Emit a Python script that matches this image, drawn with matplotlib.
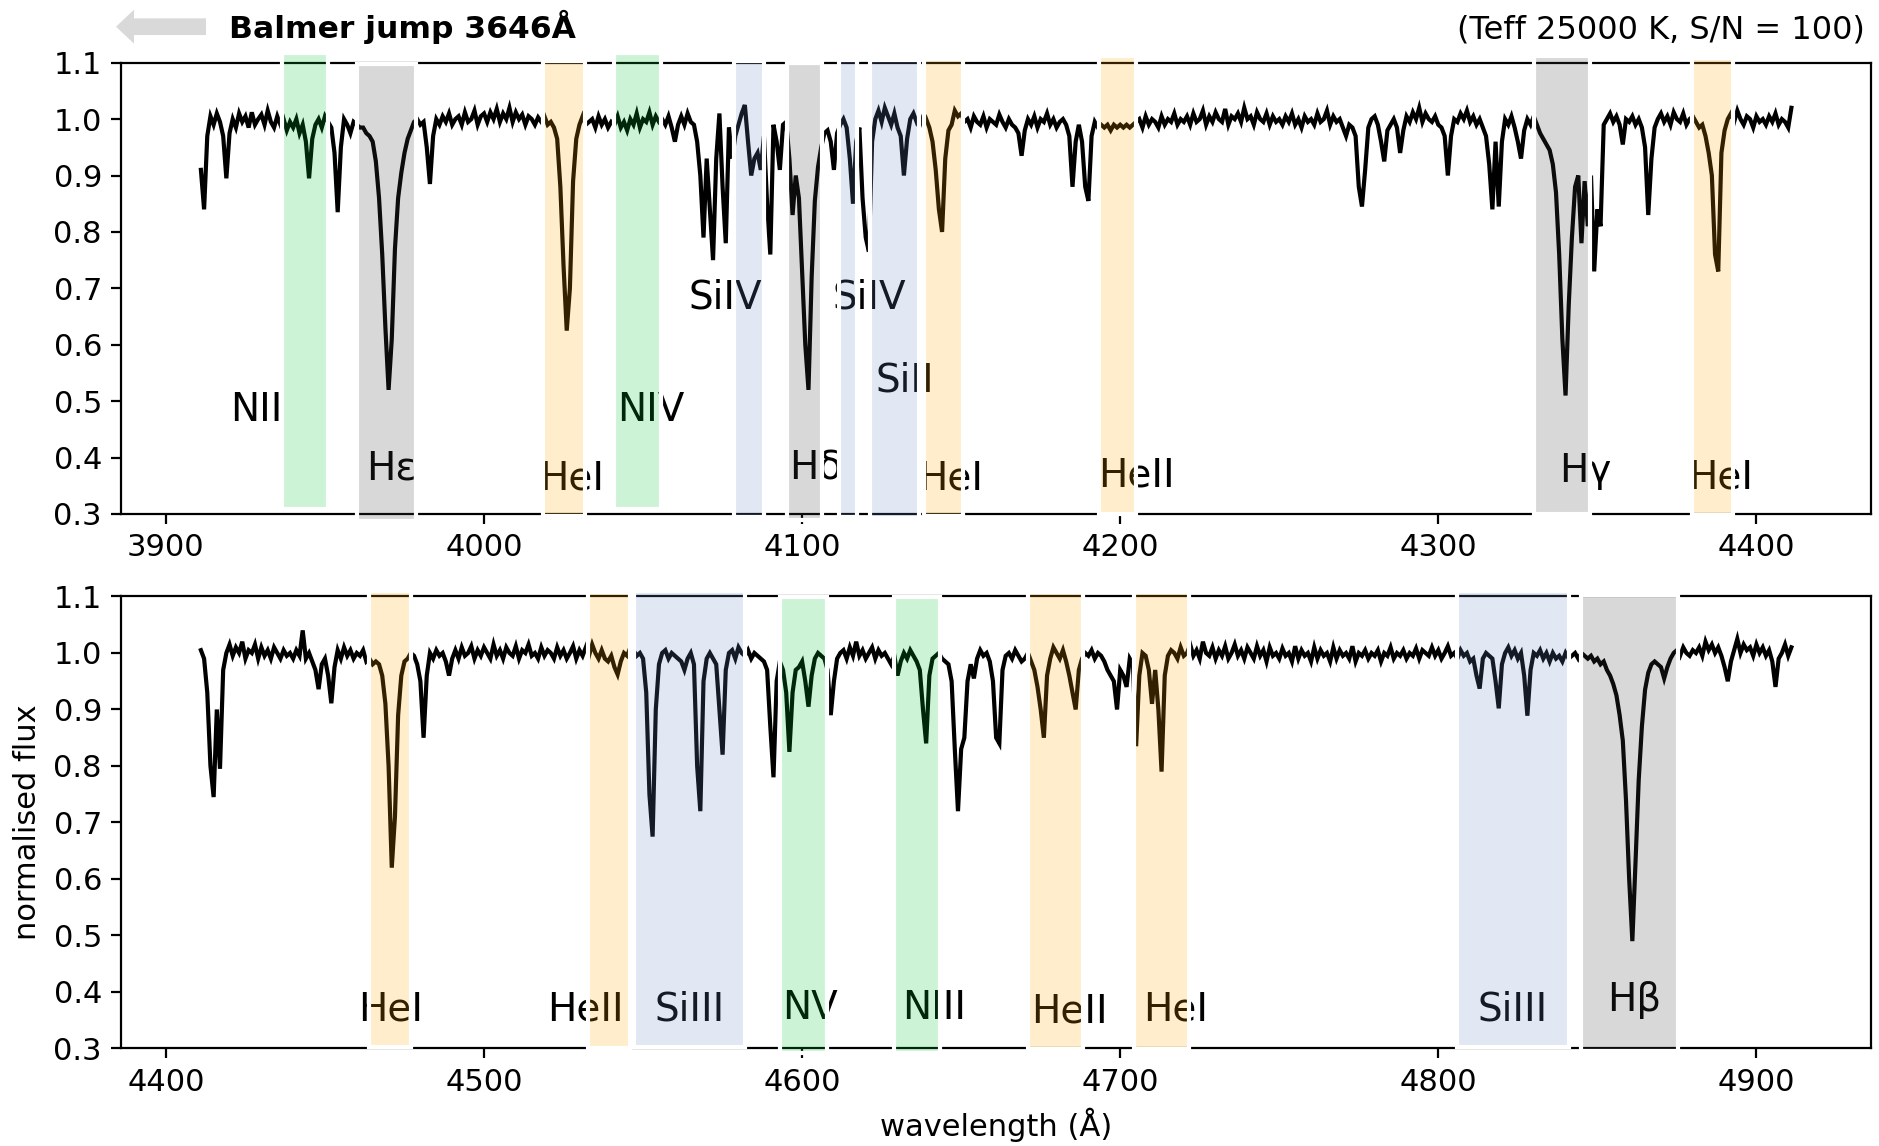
import numpy as np
import matplotlib.pyplot as plt
from matplotlib.patches import FancyArrow

plt.rcParams['font.family'] = 'DejaVu Sans'
plt.rcParams['font.size'] = 11

# normalised flux, one value per Angstrom
top_start = 3911
top_flux = [
    0.91, 0.84, 0.97, 1.005, 0.99, 1.01, 0.995, 0.97, 0.895, 0.975,      # 3911
    1.0, 0.985, 1.01, 0.995, 1.005, 0.985, 1.012, 0.99, 1.0, 1.008,      # 3921
    0.99, 1.015, 0.995, 0.985, 1.005, 0.99, 1.0, 0.98, 0.995, 0.985,     # 3931
    1.0, 0.975, 0.99, 0.96, 0.895, 0.965, 0.99, 1.0, 0.985, 1.005,       # 3941
    0.995, 0.985, 0.94, 0.835, 0.95, 1.0, 0.99, 0.975, 0.995, 0.99,      # 3951
    0.985, 0.985, 0.975, 0.97, 0.96, 0.925, 0.86, 0.76, 0.63, 0.52,      # 3961
    0.61, 0.77, 0.86, 0.905, 0.94, 0.965, 0.98, 0.995, 1.0, 0.99,        # 3971
    0.995, 0.95, 0.885, 0.97, 1.0, 0.99, 1.005, 0.995, 1.01, 0.99,       # 3981
    1.0, 1.005, 0.99, 1.012, 0.995, 1.0, 1.015, 0.99, 1.005, 1.01,       # 3991
    0.995, 1.012, 1.0, 1.018, 0.995, 1.01, 1.0, 1.02, 0.995, 1.012,      # 4001
    1.0, 1.008, 0.99, 1.005, 1.0, 0.99, 1.003, 0.995, 1.005, 0.99,       # 4011
    0.995, 0.985, 0.965, 0.88, 0.74, 0.625, 0.70, 0.89, 0.965, 0.99,     # 4021
    1.005, 0.99, 0.995, 1.0, 0.985, 1.005, 0.99, 1.0, 0.985, 0.995,      # 4031
    0.99, 1.005, 0.985, 0.995, 0.98, 1.0, 0.99, 1.01, 0.985, 1.0,        # 4041
    0.995, 1.012, 0.99, 1.005, 0.995, 1.0, 0.99, 1.005, 0.985, 0.96,     # 4051
    0.99, 1.005, 0.99, 1.01, 0.995, 0.99, 0.96, 0.90, 0.79, 0.93,        # 4061
    0.84, 0.75, 0.93, 1.01, 0.88, 0.78, 0.985, 0.93, 0.97, 0.99,         # 4071
    1.01, 1.025, 0.96, 0.90, 0.93, 0.94, 0.91, 0.97, 0.85, 0.76,         # 4081
    0.99, 0.96, 0.91, 0.99, 0.995, 0.93, 0.83, 0.90, 0.86, 0.73,         # 4091
    0.60, 0.52, 0.72, 0.855, 0.915, 0.95, 0.975, 0.98, 0.96, 0.91,       # 4101
    0.975, 0.99, 1.0, 0.985, 0.93, 0.85, 0.96, 0.985, 0.86, 0.79,        # 4111
    0.765, 0.96, 1.0, 1.015, 0.995, 1.02, 1.005, 0.99, 1.01, 0.985,      # 4121
    0.97, 0.90, 0.965, 1.0, 1.01, 0.995, 1.005, 0.99, 1.0, 0.985,        # 4131
    0.96, 0.91, 0.84, 0.80, 0.93, 0.98, 0.99, 1.015, 1.005, 1.01,        # 4141
    0.995, 1.0, 0.985, 1.005, 0.995, 0.99, 1.005, 0.985, 1.0, 0.995,     # 4151
    0.99, 1.008, 0.995, 0.985, 1.0, 0.99, 0.985, 0.975, 0.935, 0.98,     # 4161
    1.0, 0.99, 1.005, 0.985, 1.0, 0.995, 1.01, 0.99, 1.0, 0.985,         # 4171
    0.995, 1.0, 0.99, 0.97, 0.88, 0.96, 0.99, 0.96, 0.88, 0.855,         # 4181
    0.97, 0.995, 0.985, 0.99, 0.985, 0.99, 0.98, 0.99, 0.985, 0.99,      # 4191
    0.985, 0.99, 0.985, 0.99, 0.995, 1.0, 0.985, 1.005, 0.99, 1.0,       # 4201
    0.995, 0.985, 1.005, 0.99, 1.0, 0.995, 1.01, 0.99, 1.0, 0.995,       # 4211
    1.005, 0.99, 1.01, 0.995, 1.0, 1.015, 0.99, 1.005, 0.995, 1.012,     # 4221
    1.0, 0.995, 1.018, 0.99, 1.005, 1.0, 1.01, 0.995, 1.02, 1.0,         # 4231
    1.005, 0.99, 1.012, 1.0, 0.995, 1.01, 0.99, 1.005, 0.995, 1.0,       # 4241
    0.99, 1.005, 0.995, 1.01, 0.99, 1.0, 0.985, 1.005, 0.995, 1.0,       # 4251
    0.99, 1.01, 0.995, 1.0, 1.015, 0.99, 1.005, 0.995, 1.0, 0.985,       # 4261
    0.97, 0.99, 0.985, 0.97, 0.88, 0.845, 0.91, 0.985, 1.0, 1.005,       # 4271
    0.99, 0.96, 0.925, 0.98, 0.99, 1.0, 0.985, 0.94, 0.98, 1.005,        # 4281
    0.995, 1.012, 1.0, 1.02, 0.995, 1.01, 1.0, 0.995, 1.005, 0.99,       # 4291
    0.985, 0.97, 0.90, 0.97, 1.0, 0.995, 1.01, 1.0, 1.015, 0.995,        # 4301
    1.005, 0.99, 1.0, 0.985, 0.97, 0.92, 0.84, 0.96, 0.845, 0.96,        # 4311
    1.0, 0.99, 1.005, 0.985, 0.96, 0.93, 0.98, 1.0, 0.99, 1.005,         # 4321
    0.99, 0.975, 0.965, 0.955, 0.945, 0.92, 0.87, 0.76, 0.61, 0.51,      # 4331
    0.67, 0.79, 0.88, 0.90, 0.78, 0.89, 0.81, 0.90, 0.73, 0.84,          # 4341
    0.81, 0.99, 1.0, 1.01, 0.995, 1.005, 0.99, 0.955, 1.0, 0.995,        # 4351
    1.005, 0.99, 1.0, 0.985, 0.95, 0.83, 0.93, 0.985, 1.0, 1.01,         # 4361
    0.995, 1.005, 0.99, 1.012, 1.0, 0.995, 1.01, 0.99, 1.0, 1.005,       # 4371
    0.995, 0.985, 0.99, 0.97, 0.94, 0.90, 0.76, 0.73, 0.94, 0.98,        # 4381
    1.0, 1.01, 0.995, 1.015, 1.0, 0.99, 1.005, 1.0, 0.985, 1.005,        # 4391
    0.995, 1.0, 0.99, 1.005, 0.995, 1.01, 0.99, 1.0, 0.995, 0.985,       # 4401
    1.02,                                                                # 4411
]

bottom_start = 4411
bottom_flux = [
    1.005, 0.99, 0.93, 0.80, 0.745, 0.90, 0.795, 0.97, 1.0, 1.015,       # 4411
    0.995, 1.01, 1.0, 1.02, 0.99, 1.005, 1.0, 1.015, 0.99, 1.01,         # 4421
    0.995, 1.005, 0.99, 1.01, 1.0, 0.99, 1.005, 0.995, 1.0, 0.99,        # 4431
    1.005, 0.995, 1.04, 0.99, 1.0, 0.985, 0.97, 0.936, 0.98, 0.99,       # 4441
    0.96, 0.911, 0.975, 1.005, 0.99, 1.01, 0.995, 1.005, 0.99, 1.0,      # 4451
    0.995, 1.005, 0.985, 0.99, 0.98, 0.985, 0.98, 0.96, 0.91, 0.80,      # 4461
    0.62, 0.71, 0.89, 0.96, 0.985, 0.99, 1.0, 0.995, 0.98, 0.95,         # 4471
    0.85, 0.96, 1.0, 0.99, 1.005, 0.995, 1.0, 0.985, 0.96, 0.99,         # 4481
    1.005, 0.99, 1.01, 0.995, 1.0, 1.012, 0.99, 1.005, 0.995, 1.01,      # 4491
    1.0, 0.99, 1.015, 0.995, 1.005, 0.99, 1.01, 1.0, 0.995, 1.012,       # 4501
    0.99, 1.005, 1.0, 1.015, 0.995, 1.0, 0.99, 1.01, 0.995, 1.005,       # 4511
    1.0, 0.99, 1.01, 0.995, 1.005, 0.99, 1.0, 1.012, 0.99, 1.005,        # 4521
    0.995, 1.01, 0.995, 1.015, 1.0, 0.99, 1.005, 0.99, 0.985, 0.995,     # 4531
    0.975, 0.962, 0.985, 1.0, 0.995, 1.01, 1.005, 0.995, 1.0, 0.99,      # 4541
    0.93, 0.75, 0.675, 0.90, 0.98, 1.0, 1.005, 0.99, 1.0, 0.995,         # 4551
    0.99, 0.985, 0.97, 0.99, 1.0, 0.98, 0.80, 0.72, 0.95, 0.99,          # 4561
    1.0, 0.99, 0.98, 0.90, 0.82, 0.97, 1.0, 1.005, 0.99, 1.01,           # 4571
    1.0, 0.995, 1.005, 0.99, 1.0, 0.995, 0.99, 0.985, 0.97, 0.87,        # 4581
    0.78, 0.95, 0.985, 0.97, 0.93, 0.825, 0.93, 0.97, 0.975, 0.985,      # 4591
    0.95, 0.905, 0.96, 0.99, 1.0, 0.995, 0.99, 0.97, 0.89, 0.95,         # 4601
    0.99, 1.0, 1.005, 0.99, 1.01, 0.995, 1.02, 0.995, 1.005, 0.99,       # 4611
    1.0, 1.01, 0.99, 1.005, 0.995, 1.0, 0.99, 0.98, 0.995, 0.96,         # 4621
    0.985, 1.0, 0.99, 1.005, 0.995, 0.985, 0.97, 0.90, 0.84, 0.96,       # 4631
    0.99, 0.995, 1.0, 0.99, 0.985, 0.98, 0.95, 0.83, 0.72, 0.83,         # 4641
    0.85, 0.95, 0.98, 0.955, 0.99, 1.005, 0.995, 1.0, 0.985, 0.95,       # 4651
    0.85, 0.84, 0.97, 0.995, 1.0, 0.99, 1.005, 0.995, 0.985, 0.99,       # 4661
    1.0, 0.985, 0.97, 0.94, 0.90, 0.85, 0.96, 0.99, 1.01, 1.0,           # 4671
    0.99, 1.005, 0.985, 0.96, 0.93, 0.90, 0.97, 0.99, 1.0, 0.995,        # 4681
    1.005, 0.99, 1.0, 0.995, 0.985, 0.97, 0.96, 0.95, 0.90, 0.97,        # 4691
    0.96, 0.94, 0.99, 0.98, 0.835, 0.96, 1.0, 0.995, 0.97, 0.91,         # 4701
    0.97, 0.90, 0.79, 0.96, 0.995, 1.005, 1.0, 0.99, 1.01, 0.995,        # 4711
    1.0, 1.015, 0.995, 1.005, 0.99, 1.02, 1.0, 0.995, 1.01, 0.99,        # 4721
    1.005, 0.995, 1.012, 0.99, 1.0, 1.015, 0.995, 1.005, 0.99, 1.01,     # 4731
    1.0, 0.99, 1.012, 0.995, 1.005, 0.985, 1.01, 0.995, 1.0, 0.99,       # 4741
    1.008, 0.995, 1.0, 0.985, 1.012, 0.99, 1.005, 0.995, 1.0, 0.985,     # 4751
    1.01, 0.99, 1.005, 0.995, 1.0, 0.985, 1.01, 0.99, 1.005, 0.995,      # 4761
    1.0, 0.99, 1.012, 0.985, 1.0, 0.995, 1.005, 0.99, 1.0, 0.995,        # 4771
    1.005, 0.985, 1.0, 0.995, 1.01, 0.99, 1.0, 0.995, 1.005, 0.99,       # 4781
    1.0, 0.995, 1.008, 0.99, 1.005, 1.0, 0.995, 1.01, 0.995, 1.005,      # 4791
    0.99, 1.0, 1.012, 0.995, 1.0, 0.99, 1.005, 0.995, 1.0, 0.985,        # 4801
    0.99, 0.96, 0.937, 0.99, 1.0, 0.995, 0.99, 0.95, 0.902, 0.98,        # 4811
    1.0, 1.01, 0.995, 1.005, 0.99, 1.0, 0.96, 0.889, 0.97, 1.0,          # 4821
    0.995, 1.005, 0.99, 1.0, 0.985, 1.0, 0.99, 0.995, 0.985, 1.0,        # 4831
    0.99, 0.995, 1.0, 0.99, 1.0, 0.995, 0.99, 0.995, 0.985, 0.99,        # 4841
    0.98, 0.985, 0.97, 0.96, 0.945, 0.925, 0.89, 0.845, 0.74, 0.60,      # 4851
    0.49, 0.63, 0.775, 0.87, 0.935, 0.965, 0.98, 0.985, 0.98, 0.975,     # 4861
    0.955, 0.975, 0.99, 1.0, 1.005, 0.995, 1.01, 1.0, 0.995, 1.005,      # 4871
    1.0, 1.01, 0.995, 1.02, 1.005, 1.015, 1.0, 1.01, 0.995, 0.975,       # 4881
    0.95, 0.985, 1.005, 1.025, 1.0, 1.015, 1.005, 1.01, 0.995, 1.015,    # 4891
    1.0, 1.01, 0.995, 1.005, 0.985, 0.94, 0.99, 1.0, 1.015, 0.995,       # 4901
    1.01,                                                                # 4911
]

# highlighted line windows (Angstrom) and their element group
top_span_lo = [3936.4, 3960.2, 4018.6, 4040.9, 4078.7, 4095.4, 4111.7, 4121.4,
               4138.3, 4193.3, 4330.1, 4379.7]
top_span_hi = [3951.1, 3978.5, 4031.7, 4055.5, 4088.1, 4106.2, 4117.2, 4136.9,
               4150.5, 4205.0, 4347.6, 4392.7]
top_span_kind = ['N', 'H', 'He', 'N', 'Si', 'H', 'Si', 'Si', 'He', 'He', 'H', 'He']
top_span_ext = [(0.01, 1.021), (-0.015, 0.998), (-0.005, 1.003), (0.01, 1.021),
                (-0.006, 1.003), (-0.014, 0.999), (-0.006, 1.005), (-0.008, 1.006),
                (-0.005, 1.008), (0.001, 1.014), (0.001, 1.014), (-0.003, 1.01)]

bottom_span_lo = [4463.8, 4532.7, 4547.2, 4593.2, 4629.0, 4670.9, 4704.2, 4805.9, 4844.8]
bottom_span_hi = [4476.9, 4545.8, 4582.0, 4607.9, 4643.5, 4688.4, 4721.5, 4841.0, 4875.4]
bottom_span_kind = ['He', 'He', 'Si', 'N', 'N', 'He', 'He', 'Si', 'H']
bottom_span_ext = [(0.004, 1.013), (0.001, 1.01), (0.003, 1.013), (-0.011, 0.998),
                   (-0.011, 0.998), (-0.002, 1.009), (-0.002, 1.009), (0.003, 1.013),
                   (-0.005, 1.003)]

top_labels = ['NII', 'Hε', 'HeI', 'NIV', 'SiIV', 'SiIV', 'SiII', 'Hδ', 'HeI', 'HeII', 'Hγ', 'HeI']
top_label_pos = [(3928.4, 0.464), (3970.8, 0.361), (4027.6, 0.343), (4052.3, 0.464),
                 (4075.9, 0.665), (4121.1, 0.665), (4132.4, 0.517), (4104.4, 0.361),
                 (4146.8, 0.344), (4205.1, 0.349), (4346.1, 0.357), (4388.9, 0.345)]

bottom_labels = ['HeI', 'HeII', 'SiIII', 'NV', 'NIII', 'HeII', 'HeI', 'SiIII', 'Hβ']
bottom_label_pos = [(4470.6, 0.350), (4532.0, 0.349), (4564.5, 0.350), (4602.4, 0.352),
                    (4641.4, 0.352), (4683.9, 0.346), (4717.5, 0.350), (4823.3, 0.350),
                    (4861.5, 0.366)]

span_colors = {
    'N': (0.0, 0.78, 0.2, 0.2),
    'H': (0.25, 0.25, 0.25, 0.2),
    'He': (1.0, 0.647, 0.0, 0.2),
    'Si': (0.41, 0.55, 0.78, 0.2),
}

fig = plt.figure(figsize=(9.395, 5.73), dpi=200)
ax1 = fig.add_axes([0.0646, 0.5515, 0.9311, 0.3938])
ax2 = fig.add_axes([0.0646, 0.0851, 0.9311, 0.3944])

panels = [
    (ax1, top_start, top_flux, top_span_lo, top_span_hi, top_span_kind, top_span_ext,
     top_labels, top_label_pos),
    (ax2, bottom_start, bottom_flux, bottom_span_lo, bottom_span_hi, bottom_span_kind,
     bottom_span_ext, bottom_labels, bottom_label_pos),
]

for ax, start, flux, lo, hi, kind, ext, labels, lpos in panels:
    wave = start + np.arange(len(flux))
    ax.plot(wave, flux, color='black', lw=1.5, solid_joinstyle='miter')
    ax.set_ylim(0.3, 1.1)
    ax.set_yticks([0.3, 0.4, 0.5, 0.6, 0.7, 0.8, 0.9, 1.0, 1.1])
    for a, b, k, (y0, y1) in zip(lo, hi, kind, ext):
        ax.axvspan(a, b, ymin=y0, ymax=y1, facecolor=span_colors[k],
                   edgecolor='white', lw=1.5, zorder=4, clip_on=False)
    for txt, (x, y) in zip(labels, lpos):
        ax.text(x, y, txt, fontsize=14, ha='center', va='baseline', zorder=3)

ax1.set_xticks([3900, 4000, 4100, 4200, 4300, 4400])
ax2.set_xticks([4400, 4500, 4600, 4700, 4800, 4900])
ax2.set_xlabel('wavelength (Å)')
ax2.set_ylabel('normalised flux')

fig.text(228.6 / 1879, 1 - 37.7 / 1146, 'Balmer jump 3646Å', fontsize=11.3,
         fontweight='bold', va='baseline')
fig.text(1865 / 1879, 1 - 38.3 / 1146, '(Teff 25000 K, S/N = 100)', fontsize=11.5,
         ha='right', va='baseline')

arrow = FancyArrow(206 / 200, (1146 - 26.7) / 200, -90 / 200, 0,
                   width=16.7 / 200, head_width=34 / 200, head_length=18 / 200,
                   length_includes_head=True, color='#d9d9d9', lw=0,
                   transform=fig.dpi_scale_trans)
fig.add_artist(arrow)

fig.savefig('out.png', dpi=200)
